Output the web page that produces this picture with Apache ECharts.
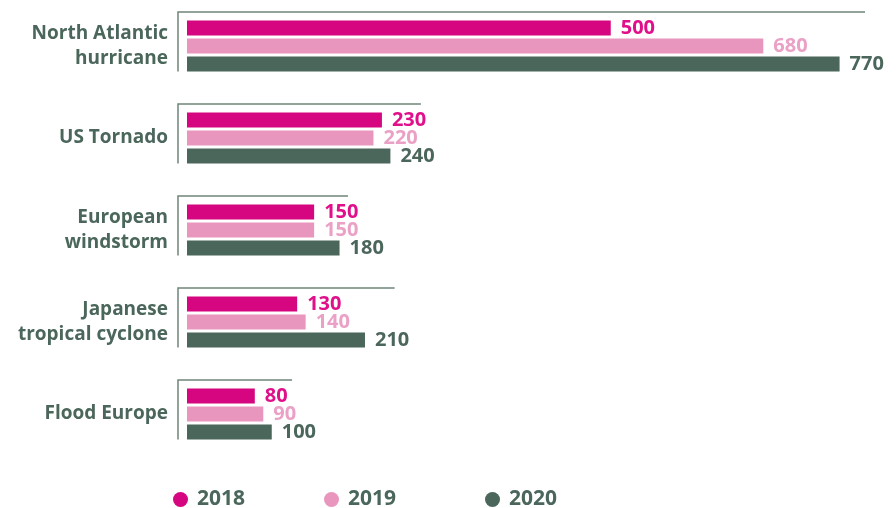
<!DOCTYPE html>
<html>
<head>
<meta charset="utf-8">
<script src="https://cdn.jsdelivr.net/npm/echarts@6/dist/echarts.min.js"></script>
<style>
  html, body { margin: 0; padding: 0; background: #ffffff; }
  #chart { width: 896px; height: 508px; }
</style>
</head>
<body>
<div id="chart"></div>
<script>
// Insured losses by peril, per year
const categories = [
  'North Atlantic\nhurricane',
  'US Tornado',
  'European\nwindstorm',
  'Japanese\ntropical cyclone',
  'Flood Europe'
];
const years = ['2018', '2019', '2020'];
const values2018 = [500, 230, 150, 130, 80];
const values2019 = [680, 220, 150, 140, 90];
const values2020 = [770, 240, 180, 210, 100];
// how far along the value axis each group's top rule runs
const bracketReach = [800, 276, 190, 245, 124];

const barColors = ['#d5067f', '#e896bd', '#4b665a'];
const labelColors = ['#e0108a', '#eba0c6', '#4b665a'];
const textColor = '#4b665a';
const ruleColor = '#6f857a';
const FONT = '"Open Sans", "DejaVu Sans", sans-serif';

const seriesValues = [values2018, values2019, values2020];

const barSeries = years.map((y, i) => ({
  name: y,
  type: 'bar',
  data: seriesValues[i],
  barWidth: 15,
  barGap: '20%',
  itemStyle: { color: barColors[i] },
  label: {
    show: true,
    position: 'right',
    distance: 10,
    color: labelColors[i],
    fontFamily: FONT,
    fontWeight: 'bold',
    fontSize: 20
  },
  z: 3
}));

// bracket: a short vertical rule left of each group and a top rule over it
const bracketSeries = {
  type: 'custom',
  silent: true,
  data: bracketReach.map((v, i) => [i, v]),
  encode: { x: 1, y: 0 },
  renderItem: function (params, api) {
    const idx = api.value(0);
    const base = api.coord([0, idx]);
    const end = api.coord([api.value(1), idx]);
    const x0 = base[0] - 9;
    const yTop = base[1] - 34;
    const yBot = base[1] + 25.5;
    return {
      type: 'polyline',
      shape: { points: [[x0, yBot], [x0, yTop], [end[0], yTop]] },
      style: { stroke: ruleColor, lineWidth: 1.5, fill: null }
    };
  },
  z: 2
};

const legendLefts = [168, 319, 480];
const legends = years.map((y, i) => ({
  data: [y],
  left: legendLefts[i],
  top: 484,
  icon: 'circle',
  itemWidth: 15,
  itemHeight: 15,
  itemGap: 10,
  textStyle: {
    color: textColor,
    fontFamily: FONT,
    fontWeight: 'bold',
    fontSize: 21,
    padding: [0, 0, 0, 4]
  },
  selectedMode: false
}));

const chart = echarts.init(document.getElementById('chart'), null, { renderer: 'canvas' });
chart.setOption({
  animation: false,
  backgroundColor: '#ffffff',
  grid: { left: 187, top: 0, width: 678, height: 460, containLabel: false },
  legend: legends,
  xAxis: {
    type: 'value',
    min: 0,
    max: 800,
    show: false,
    splitLine: { show: false }
  },
  yAxis: {
    type: 'category',
    data: categories,
    inverse: true,
    axisLine: { show: false },
    axisTick: { show: false },
    axisLabel: {
      margin: 19,
      color: textColor,
      fontFamily: FONT,
      fontWeight: 'bold',
      fontSize: 19,
      lineHeight: 25,
      align: 'right'
    }
  },
  series: barSeries.concat([bracketSeries])
});
</script>
</body>
</html>
